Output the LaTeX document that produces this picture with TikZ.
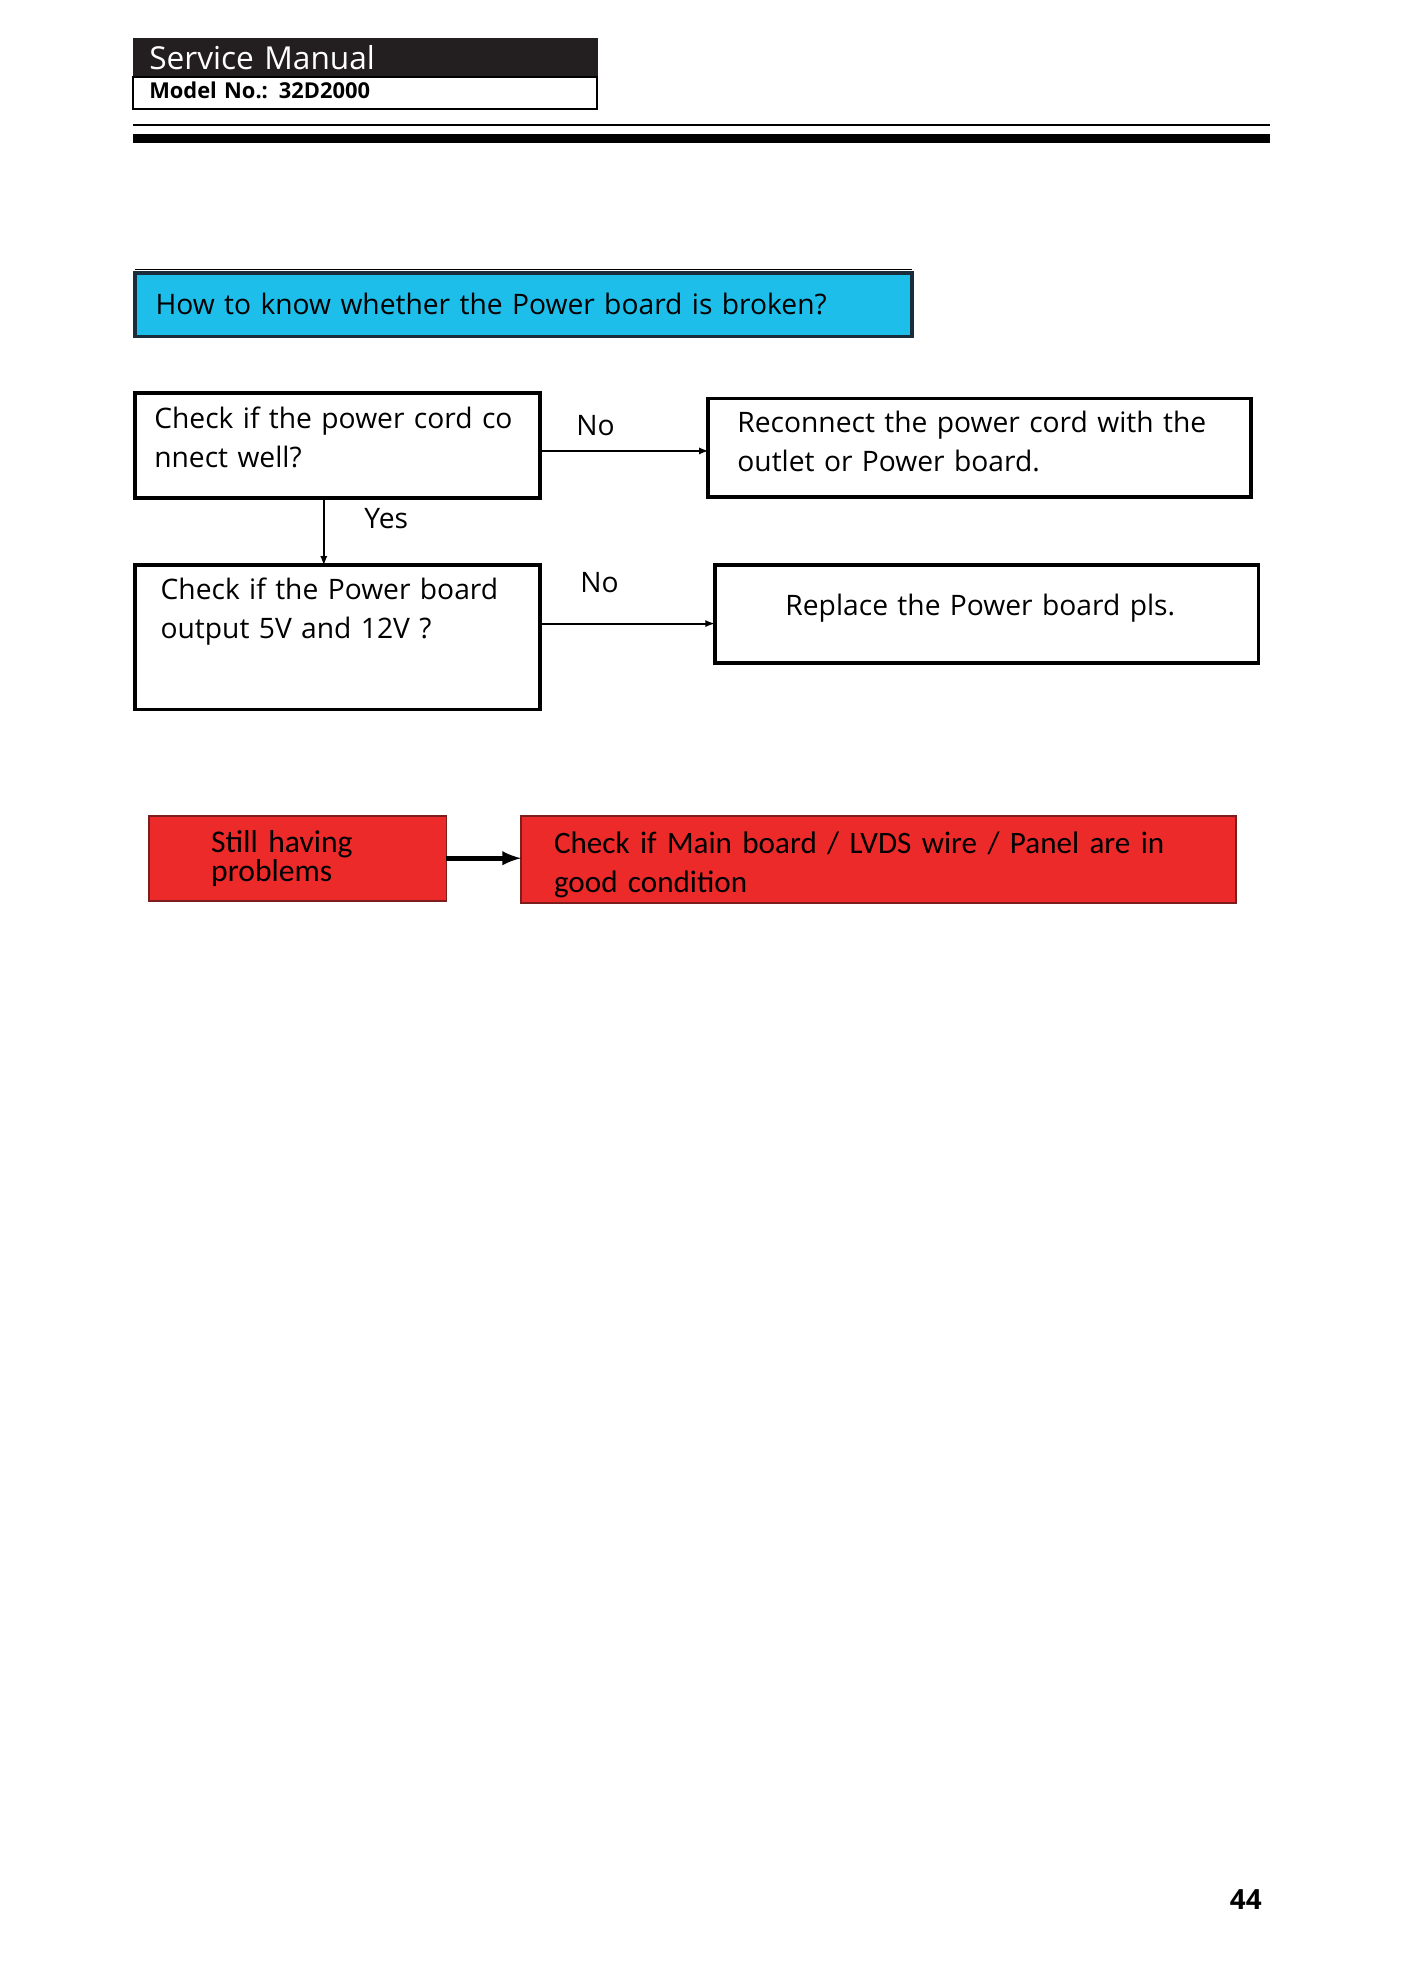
\documentclass[tikz,border=0pt]{standalone}
\usepackage{fontspec}
\setmainfont{Open Sans}
\newfontfamily\calibri{Carlito}
\usepackage{tikz}
\definecolor{headblack}{RGB}{35,31,32}
\definecolor{qblue}{RGB}{30,190,234}
\definecolor{qline}{RGB}{25,45,60}
\definecolor{alertred}{RGB}{236,42,42}
\definecolor{alertline}{RGB}{125,30,30}
\newcommand{\txt}{\fontsize{22.3pt}{31pt}\selectfont}

\begin{document}
\begin{tikzpicture}[x=1pt,y=-1pt,
box/.style={draw,line width=3pt,outer sep=0pt,inner ysep=0pt,anchor=north west,align=left,font=\txt},
alert/.style={box,draw=alertline,line width=1.5pt,fill=alertred,font=\calibri\fontsize{24.6pt}{31pt}\selectfont}]
\useasboundingbox (0,0) rectangle (1107,1567);
\node[fill=headblack,anchor=north west,outer sep=0pt,inner ysep=0pt,minimum width=368pt,inner xsep=13pt,text width=342pt,text height=25pt,text depth=6pt,align=left,text=white,font=\fontsize{25pt}{28pt}\selectfont] (H1) at (105,30) {Service Manual};
\node[draw,line width=2pt,anchor=north west,outer sep=0pt,inner ysep=0pt,minimum width=367pt,inner xsep=13pt,text width=341pt,text height=17pt,text depth=8pt,align=left,font=\bfseries\fontsize{17.3pt}{20pt}\selectfont] (H2) at (105,61) {Model No.: 32D2000};
\draw[line width=2pt] (105,99) -- (1004,99);
\draw[line width=7pt] (105,109.5) -- (1004,109.5);
\node[box,fill=qblue,draw=qline,minimum width=614pt,inner xsep=16pt,text width=582pt,text height=33pt,text depth=17pt] (Q) at (107,216) {How to know whether the Power board is broken?};
\draw[line width=1pt] ([yshift=3pt]Q.north west) -- ([yshift=3pt]Q.north east);
\node[box,minimum width=320pt,inner xsep=15pt,text width=290pt,text height=27.5pt,text depth=55.5pt] (A) at (107,311) {Check if the power cord co\\nnect well?};
\node[box,minimum width=429pt,inner xsep=23pt,text width=383pt,text height=27pt,text depth=51pt] (B) at (560,315) {Reconnect the power cord with the\\outlet or Power board.};
\node[box,minimum width=320pt,inner xsep=20pt,text width=280pt,text height=27pt,text depth=87pt] (C) at (107,447) {Check if the Power board\\output 5V and 12V ?};
\node[box,minimum width=430pt,inner xsep=56pt,text width=318pt,text height=40pt,text depth=37pt] (D) at (565,447) {Replace the Power board pls.};
\node[alert,minimum width=235pt,inner xsep=49pt,text width=137pt,text height=29pt,text depth=38pt,font=\calibri\fontsize{25pt}{21pt}\selectfont] (E) at (118,645) {Still having\\problems};
\node[alert,minimum width=565pt,inner xsep=26pt,text width=513pt,text height=30pt,text depth=39pt] (F) at (412,645) {Check if Main board / LVDS wire / Panel are in\\good condition};
\draw[-latex,line width=1.5pt] ([yshift=-4pt]A.east) -- ([yshift=-4pt]A.east -| B.west) node[pos=0.33,above=8pt,font=\txt]{No};
\draw[-latex,line width=1.5pt] ([xshift=-11pt]A.south) -- ([xshift=-11pt]A.south |- C.north) node[pos=0.3,right=28pt,font=\txt]{Yes};
\draw[-latex,line width=1.5pt] ([yshift=11pt]C.east) -- ([yshift=11pt]C.east -| D.west) node[pos=0.34,above=20pt,font=\txt]{No};
\draw[-latex,line width=4pt] (E.east) -- (E.east -| F.west);
\node[font=\bfseries\fontsize{22pt}{26pt}\selectfont] (P) at (985,1502) {44};
\end{tikzpicture}
\end{document}
